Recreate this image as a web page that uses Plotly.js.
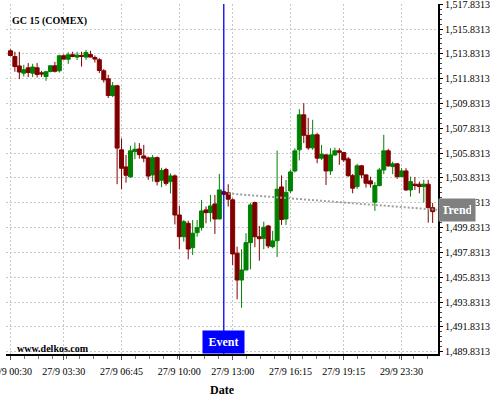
<!DOCTYPE html>
<html>
<head>
<meta charset="utf-8">
<script src="https://cdn.plot.ly/plotly-3.0.1.min.js"></script>
<style>html,body{margin:0;padding:0;background:#fff;}#chart{width:500px;height:400px;}</style>
</head>
<body>
<div id="chart"></div>
<script>
// ---- data (15-minute candles, GC 15 COMEX) ----
const openP = [1514.08,1513.62,1512.86,1512.28,1512.71,1512.28,1512.71,1512.31,1512.01,1512.41,
  1512.87,1512.47,1513.68,1513.40,1513.76,1513.57,1513.71,1513.57,1513.78,1513.54,
  1513.36,1512.47,1511.82,1510.48,1511.26,1506.10,1504.72,1503.92,1505.96,1506.17,
  1505.61,1505.45,1504.08,1505.47,1503.65,1504.51,1503.54,1504.00,1500.85,1499.10,
  1500.18,1498.22,1499.43,1499.83,1501.26,1501.04,1501.74,1500.53,1502.73,1502.65,
  1502.07,1497.77,1495.61,1496.42,1498.62,1501.85,1499.10,1498.97,1499.97,1498.30,
  1498.78,1503.11,1500.53,1502.79,1504.40,1506.10,1508.92,1507.27,1506.26,1507.31,
  1505.43,1505.69,1504.40,1505.69,1506.02,1505.88,1505.37,1504.02,1503.14,1504.81,
  1504.08,1503.60,1501.88,1503.22,1504.48,1506.02,1504.75,1504.97,1503.94,1504.40,
  1502.87,1503.33,1503.33,1503.14,1503.33,1501.44];
const highP = [1514.20,1514.00,1514.00,1512.95,1513.09,1513.03,1513.09,1512.47,1512.47,1512.91,
  1513.19,1513.76,1513.80,1513.96,1514.00,1514.00,1514.00,1514.16,1514.08,1513.70,
  1513.49,1512.61,1512.14,1511.56,1511.34,1507.02,1505.69,1506.43,1506.69,1506.64,
  1506.50,1505.56,1505.69,1505.57,1504.65,1504.65,1504.20,1504.12,1501.58,1500.45,
  1500.39,1500.45,1500.45,1502.06,1501.53,1502.47,1502.47,1504.16,1502.83,1503.33,
  1502.20,1498.30,1498.09,1499.38,1501.80,1501.93,1499.97,1500.31,1500.05,1499.57,
  1506.04,1504.04,1503.68,1504.48,1506.22,1509.38,1509.86,1508.68,1508.52,1507.47,
  1506.50,1505.77,1506.23,1506.28,1506.23,1505.94,1505.53,1504.16,1504.97,1504.89,
  1504.14,1503.94,1503.49,1504.64,1507.31,1506.18,1505.15,1505.05,1504.62,1504.62,
  1503.94,1503.90,1503.54,1503.68,1503.68,1501.82];
const lowP = [1513.64,1512.39,1511.80,1512.01,1511.96,1511.96,1511.93,1511.98,1511.66,1512.35,
  1512.33,1512.33,1513.36,1513.03,1513.56,1513.35,1512.81,1513.35,1513.56,1513.14,
  1512.28,1511.52,1510.27,1510.35,1503.33,1502.94,1503.45,1503.86,1505.35,1505.39,
  1505.10,1503.68,1503.54,1503.23,1503.09,1503.22,1502.59,1500.09,1498.11,1498.70,
  1497.28,1497.63,1499.10,1499.59,1500.18,1500.31,1499.32,1500.50,1502.47,1501.53,
  1496.82,1494.06,1493.38,1496.42,1496.47,1498.25,1497.17,1498.09,1498.17,1498.17,
  1497.47,1500.05,1500.05,1502.63,1504.28,1505.25,1506.64,1506.10,1506.10,1505.02,
  1505.29,1503.27,1504.08,1505.61,1504.89,1505.13,1503.92,1502.60,1502.95,1503.81,
  1503.06,1503.06,1501.18,1503.16,1504.14,1504.73,1504.14,1503.76,1503.92,1502.79,
  1502.33,1502.87,1502.60,1501.88,1500.23,1500.21];
const closeP = [1513.70,1512.81,1512.37,1512.55,1512.33,1512.77,1512.17,1512.21,1512.39,1512.87,
  1512.43,1513.68,1513.41,1513.76,1513.62,1513.73,1513.63,1513.94,1513.57,1513.41,
  1512.49,1511.74,1510.48,1511.26,1506.24,1504.61,1504.05,1506.02,1506.15,1505.71,
  1505.43,1503.99,1505.47,1503.54,1504.43,1503.40,1504.00,1500.85,1499.10,1500.31,
  1498.11,1499.38,1499.83,1501.18,1501.04,1501.58,1500.53,1502.87,1502.52,1502.12,
  1497.71,1495.61,1496.42,1498.62,1501.66,1499.10,1498.94,1499.86,1498.36,1498.76,
  1502.93,1500.49,1502.67,1504.32,1506.02,1508.92,1507.27,1506.26,1507.31,1505.43,
  1505.75,1504.40,1505.69,1506.02,1505.91,1505.29,1504.02,1503.01,1504.81,1504.08,
  1503.41,1503.35,1503.22,1504.48,1506.02,1504.81,1504.97,1503.94,1504.40,1502.87,
  1503.54,1503.22,1503.14,1503.33,1501.44,1501.12];

const xTickPos = [0, 12, 25, 38, 50, 63, 75, 88];
const xTickLabels = ["27/9 00:30","27/9 03:30","27/9 06:45","27/9 10:00","27/9 13:00","27/9 16:15","27/9 19:15","29/9 23:30"];
const yTicks = [1489.8313,1491.8313,1493.8313,1495.8313,1497.8313,1499.8313,1501.8313,1503.8313,
  1505.8313,1507.8313,1509.8313,1511.8313,1513.8313,1515.8313,1517.8313];

const eventPos = [48];
const trendX = [49, 96];
const trendY = [1502.58, 1501.27];

// ---- chart ----
const FONT = "Liberation Serif, 'Times New Roman', serif";
const xIdx = openP.map((_, i) => i);

const candles = {
  type: 'candlestick',
  x: xIdx, open: openP, high: highP, low: lowP, close: closeP,
  increasing: {line: {color: '#008000', width: 1}, fillcolor: '#008000'},
  decreasing: {line: {color: '#800000', width: 1}, fillcolor: '#800000'},
  whiskerwidth: 0,
  hoverinfo: 'skip',
  showlegend: false
};

const trend = {
  type: 'scatter', mode: 'lines',
  x: trendX, y: trendY,
  line: {color: '#a0a0a0', width: 2, dash: '2px,2px'},
  hoverinfo: 'skip', showlegend: false
};

const layout = {
  width: 500, height: 400,
  margin: {l: 6, r: 62, t: 4, b: 46},
  paper_bgcolor: '#ffffff', plot_bgcolor: '#ffffff',
  font: {family: FONT, size: 10, color: '#000'},
  showlegend: false,
  hovermode: false,
  boxgap: 0.1, boxgroupgap: 0,
  xaxis: {
    range: [-1, 96.2],
    tickmode: 'array', tickvals: xTickPos, ticktext: xTickLabels,
    ticks: 'outside', ticklen: 4, tickcolor: '#555',
    ticklabeloverflow: 'allow', ticklabelstandoff: 3,
    minor: {tickmode: 'linear', tick0: 0, dtick: 3.125, ticks: 'outside', ticklen: 3, tickcolor: '#777', showgrid: false},
    showline: true, linecolor: '#000', linewidth: 1.5,
    showgrid: true, gridcolor: '#c8c8c8', gridwidth: 1, griddash: '2px,2px',
    zeroline: false,
    tickfont: {family: FONT, size: 10, color: '#000'},
    rangeslider: {visible: false},
    fixedrange: true,
    title: {text: '<b>Date</b>', font: {family: FONT, size: 12, color: '#000'}, standoff: 10}
  },
  yaxis: {
    side: 'right',
    range: [1489.65, 1517.85],
    tickmode: 'array', tickvals: yTicks, tickformat: ',.4f',
    ticks: 'outside', ticklen: 3, tickcolor: '#000',
    ticklabeloverflow: 'allow',
    minor: {tickmode: 'linear', tick0: 1489.8313, dtick: 0.4, ticks: 'outside', ticklen: 2, tickcolor: '#444', showgrid: false},
    showline: true, linecolor: '#000', linewidth: 2,
    showgrid: true, gridcolor: '#c8c8c8', gridwidth: 1, griddash: '2px,2px',
    zeroline: false,
    tickfont: {family: FONT, size: 10, color: '#000'},
    fixedrange: true
  },
  shapes: eventPos.map(p => ({
    type: 'line', xref: 'x', yref: 'paper', x0: p, x1: p, y0: 0, y1: 1,
    line: {color: '#0000ee', width: 1.3}, layer: 'above'
  })),
  annotations: [
    {text: '<b>GC 15 (COMEX)</b>', xref: 'paper', yref: 'paper', x: 0.009, y: 0.951,
     xanchor: 'left', yanchor: 'middle', showarrow: false, font: {family: FONT, size: 10, color: '#000'}},
    {text: '<b>www.delkos.com</b>', xref: 'paper', yref: 'paper', x: 0.021, y: 0.015,
     xanchor: 'left', yanchor: 'middle', showarrow: false, font: {family: FONT, size: 10, color: '#000'}},
    {text: '<b>Event</b>', xref: 'x', yref: 'paper', x: eventPos[0], y: 0,
     xanchor: 'center', yanchor: 'bottom', showarrow: false, bgcolor: '#0000ff',
     width: 33, height: 14, borderpad: 4, font: {family: FONT, size: 12, color: '#ffffff'}},
    {text: '<b>Trend</b>', xref: 'paper', yref: 'y', x: 1, y: trendY[trendY.length - 1],
     xanchor: 'left', yanchor: 'middle', showarrow: false, bgcolor: '#808080',
     width: 28, height: 14, borderpad: 4, font: {family: FONT, size: 12, color: '#ffffff'}}
  ]
};

Plotly.newPlot('chart', [candles, trend], layout, {displayModeBar: false, staticPlot: true});
</script>
</body>
</html>
